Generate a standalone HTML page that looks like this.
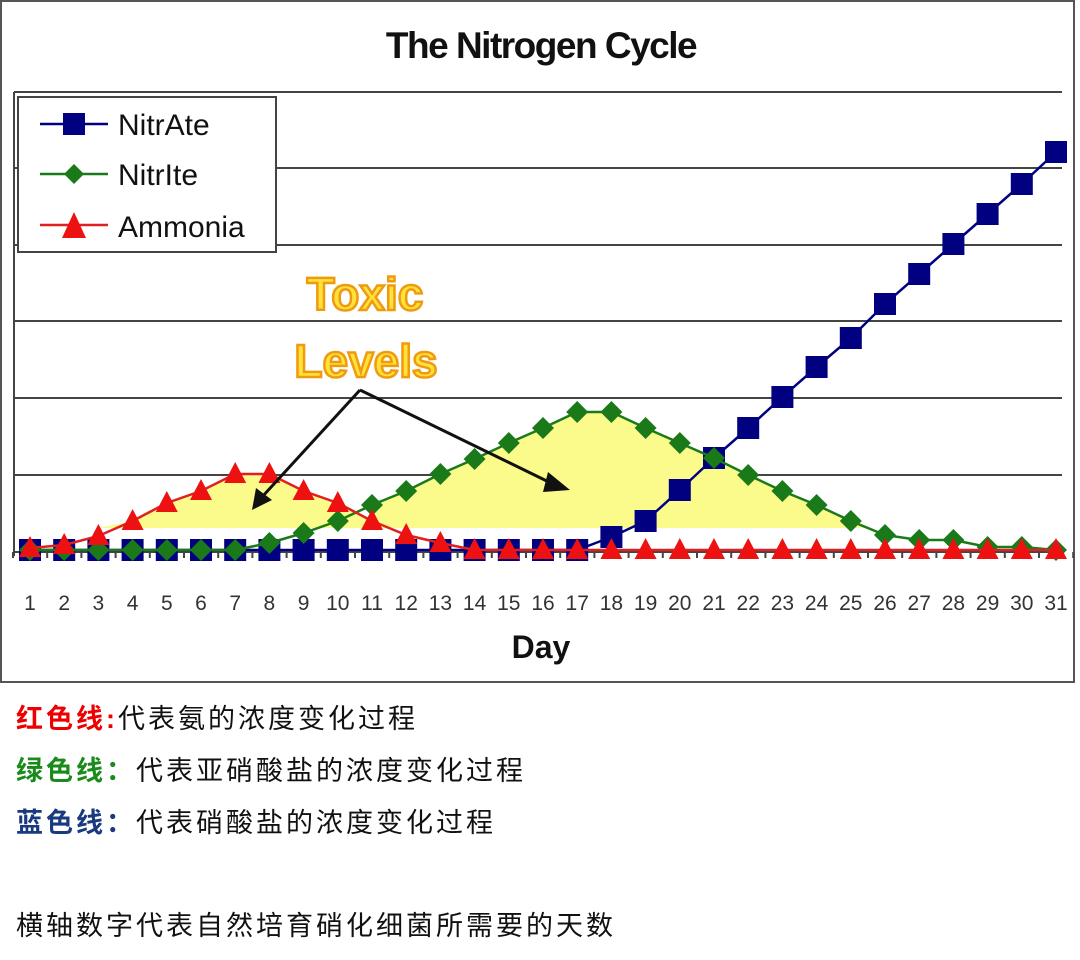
<!DOCTYPE html>
<html><head><meta charset="utf-8"><style>
body{margin:0;background:#fff;width:1080px;height:960px;overflow:hidden}
.t{position:absolute;left:16px;font-family:"Liberation Sans","Noto Sans CJK SC",sans-serif;font-size:27px;letter-spacing:3px;color:#111}
</style></head><body>
<svg id="s" width="1080" height="690" style="position:absolute;left:0;top:0" font-family="Liberation Sans, sans-serif">
<rect x="1" y="1" width="1073" height="681" fill="#fff" stroke="#555" stroke-width="2"/>
<text x="541" y="58" text-anchor="middle" font-size="37" font-weight="bold" fill="#111" letter-spacing="-1.5">The Nitrogen Cycle</text>
<g id="grid" stroke="#444" stroke-width="2"></g>
<polygon id="fill" fill="#fbfb8c"/>
<g id="series"></g>
<g stroke="#111" stroke-width="3" fill="none">
<polyline points="360,390 262,497"/><polyline points="360,390 555,485"/>
</g>
<polygon points="252,510 256,488 272,500" fill="#111"/>
<polygon points="570,490 548,472 543,492" fill="#111"/>
<g font-size="46" font-weight="bold" fill="#ffe23a" stroke="#f09a10" stroke-width="2.5" text-anchor="middle">
<text x="365" y="310">Toxic</text><text x="366" y="377">Levels</text></g>
<rect x="18" y="97" width="258" height="155" fill="#fff" stroke="#444" stroke-width="2"/>
<g stroke-width="2.5"><line x1="40" y1="124" x2="108" y2="124" stroke="#000080"/><line x1="40" y1="174" x2="108" y2="174" stroke="#1a7a1a"/><line x1="40" y1="225" x2="108" y2="225" stroke="#e02020"/></g>
<rect x="63" y="113" width="22" height="22" fill="#000080"/>
<polygon points="74,164 84,174 74,184 64,174" fill="#1a7a1a"/>
<polygon points="74,212 86,238 62,238" fill="#ee1111"/>
<g font-size="30" fill="#111"><text x="118" y="135">NitrAte</text><text x="118" y="185">NitrIte</text><text x="118" y="237">Ammonia</text></g>
<g id="xl" font-size="21" fill="#333" text-anchor="middle"></g>
<text x="541" y="658" text-anchor="middle" font-size="32" font-weight="bold" fill="#111">Day</text>
</svg>
<div class="t" style="top:697px"><b style="color:#e00">红色线:</b>代表氨的浓度变化过程</div>
<div class="t" style="top:749px"><b style="color:#1a8a1a">绿色线：</b>代表亚硝酸盐的浓度变化过程</div>
<div class="t" style="top:801px"><b style="color:#1a3a80">蓝色线：</b>代表硝酸盐的浓度变化过程</div>
<div class="t" style="top:904px">横轴数字代表自然培育硝化细菌所需要的天数</div>
<script>
var NS="http://www.w3.org/2000/svg";
function el(t,a,p){var e=document.createElementNS(NS,t);for(var k in a)e.setAttribute(k,a[k]);p.appendChild(e);return e;}
var X=function(d){return 30+(d-1)*34.2;};
var g=document.getElementById('grid');
[92,168,245,321,398,475].forEach(function(y){el('line',{x1:14,y1:y,x2:1062,y2:y},g);});
el('line',{x1:14,y1:92,x2:14,y2:556},g);
el('line',{x1:14,y1:552,x2:1062,y2:552},g);
for(var d=0;d<=31;d++){var x=13+d*34.2;el('line',{x1:x,y1:552,x2:x,y2:558},g);}
var am=[548,545,536,521,503,491,474,474,491,503,521,535,543];while(am.length<31)am.push(550);
var ni=[550,550,550,550,550,550,550,543,533,521,505,491,474,459,443,428,412,412,428,443,458,475,491,505,521,535,540,540,547,547,550];
var na=[];for(var i=0;i<17;i++)na.push(550);na=na.concat([537,521,490,458,428,397,367,338,304,274,244,214,184,152]);
var pts=[];var B=528;
pts.push(X(3)+','+B);
for(var i=3;i<=10;i++)pts.push(X(i+1)+','+Math.min(am[i],B));
pts.push('376,520');
for(var i=10;i<25;i++)pts.push(X(i+1)+','+Math.min(ni[i],B));
pts.push(X(25.5)+','+B);
document.getElementById('fill').setAttribute('points',pts.join(' '));
var s=document.getElementById('series');
function line(arr,c){el('polyline',{points:arr.map(function(v,i){return X(i+1)+','+v;}).join(' '),fill:'none',stroke:c,'stroke-width':2.5},s);}
line(na,'#000080');
na.forEach(function(v,i){el('rect',{x:X(i+1)-11,y:v-11,width:22,height:22,fill:'#000080'},s);});
line(ni,'#1a7a1a');
ni.forEach(function(v,i){var x=X(i+1);el('polygon',{points:x+','+(v-11)+' '+(x+11)+','+v+' '+x+','+(v+11)+' '+(x-11)+','+v,fill:'#1a7a1a'},s);});
line(am,'#e02020');
am.forEach(function(v,i){var x=X(i+1);el('polygon',{points:x+','+(v-12)+' '+(x+11)+','+(v+9)+' '+(x-11)+','+(v+9),fill:'#ee1111'},s);});
var xl=document.getElementById('xl');
for(var d=1;d<=31;d++){var t=el('text',{x:X(d),y:610},xl);t.textContent=d;}
</script>
</body></html>
